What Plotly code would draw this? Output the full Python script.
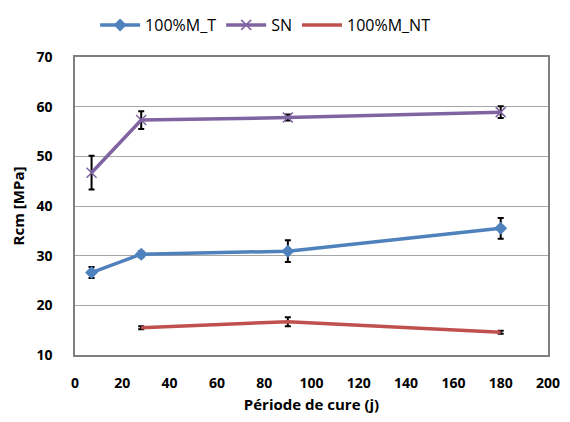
import plotly.graph_objects as go

days_t = [7, 28, 90, 180]
rcm_t = [26.6, 30.3, 30.9, 35.5]
err_t = [1.1, 0.6, 2.2, 2.1]

days_sn = [7, 28, 90, 180]
rcm_sn = [46.7, 57.3, 57.8, 58.9]
err_sn = [3.4, 1.8, 0.6, 1.2]

days_nt = [28, 90, 180]
rcm_nt = [15.5, 16.7, 14.6]
err_nt = [0.3, 0.9, 0.3]

x_ticks = list(range(0, 201, 20))
y_ticks = list(range(10, 71, 10))

font_main = "Open Sans, Liberation Sans, sans-serif"


def err(vals):
    return dict(type="data", array=vals, visible=True, color="black", thickness=2, width=3)


fig = go.Figure()
fig.add_trace(go.Scatter(
    x=days_t, y=rcm_t, name="100%M_T", mode="lines+markers",
    line=dict(color="#4F81BD", width=3.5),
    marker=dict(symbol="diamond", size=10, color="#4F81BD"),
    error_y=err(err_t),
))
fig.add_trace(go.Scatter(
    x=days_sn, y=rcm_sn, name="SN", mode="lines+markers",
    line=dict(color="#8064A2", width=3.5),
    marker=dict(symbol="x-thin", size=10, line=dict(color="#8064A2", width=1.5)),
    error_y=err(err_sn),
))
fig.add_trace(go.Scatter(
    x=days_nt, y=rcm_nt, name="100%M_NT", mode="lines",
    line=dict(color="#C0504D", width=3.5),
    error_y=err(err_nt),
))

# the page body adds an 8px margin, so the figure is a bit smaller than the window
fig.update_layout(
    width=554, height=406,
    margin=dict(l=67, r=14, t=49, b=59, autoexpand=False),
    paper_bgcolor="white", plot_bgcolor="white",
    font=dict(family=font_main, size=14, color="black"),
    legend=dict(orientation="h", x=0.465, xref="container", xanchor="center",
                y=1.0, yanchor="top", yref="container", font=dict(size=16), itemwidth=40),
    showlegend=True,
)
fig.update_xaxes(
    range=[0, 200], tickvals=x_ticks, showgrid=False,
    showline=True, linecolor="#808080", linewidth=1.5, mirror=True,
    ticks="", ticklabelstandoff=14, tickfont=dict(size=14, family=font_main, weight="bold"),
    title=dict(text="<b>Période de cure (j)</b>", font=dict(size=15), standoff=12),
    zeroline=False,
)
fig.update_yaxes(
    range=[10, 70], tickvals=y_ticks, showgrid=True, gridcolor="#A6A6A6", gridwidth=1.2,
    showline=True, linecolor="#808080", linewidth=1.5, mirror=True,
    ticks="", ticklabelstandoff=18, tickfont=dict(size=14, family=font_main, weight="bold"),
    title=dict(text="<b>Rcm [MPa]</b>", font=dict(size=15), standoff=8),
    zeroline=False,
)

fig.write_html("out.html")
